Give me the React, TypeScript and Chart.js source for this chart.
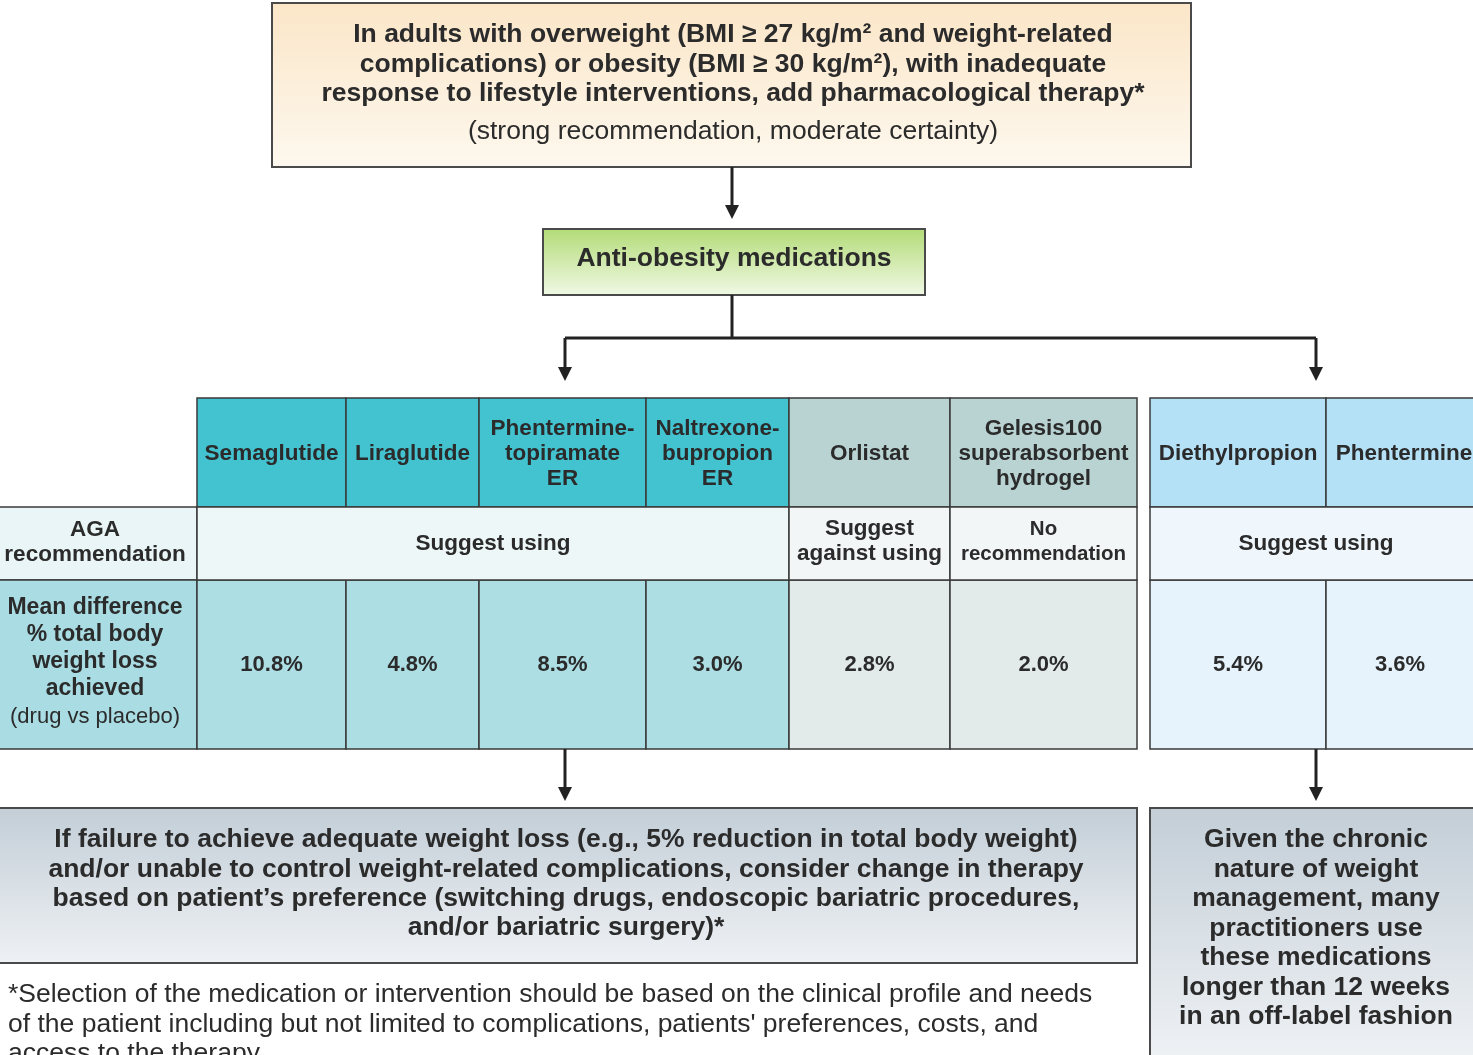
import React, { useEffect, useRef } from "react";
import { Chart, registerables } from "chart.js";

Chart.register(...registerables);

// ---------------- DATA ----------------
const drugNames = [
  "Semaglutide",
  "Liraglutide",
  "Phentermine-\ntopiramate\nER",
  "Naltrexone-\nbupropion\nER",
  "Orlistat",
  "Gelesis100\nsuperabsorbent\nhydrogel",
  "Diethylpropion",
  "Phentermine",
];
const weightLossPct = [10.8, 4.8, 8.5, 3.0, 2.8, 2.0, 5.4, 3.6];
const drugGroups = ["long", "long", "long", "long", "other", "other", "short", "short"];
const agaTexts = ["Suggest using", "Suggest\nagainst using", "No\nrecommendation", "Suggest using"];
const agaSpans = [
  [0, 3],
  [4, 4],
  [5, 5],
  [6, 7],
];
const rowLabels = ["AGA\nrecommendation", "Mean difference\n% total body\nweight loss\nachieved"];
const rowLabelNote = "(drug vs placebo)";
const topBoxLines = [
  "In adults with overweight (BMI ≥ 27 kg/m² and weight-related",
  "complications) or obesity (BMI ≥ 30 kg/m²), with inadequate",
  "response to lifestyle interventions, add pharmacological therapy*",
];
const topBoxNote = "(strong recommendation, moderate certainty)";
const middleBoxText = "Anti-obesity medications";
const failureLines = [
  "If failure to achieve adequate weight loss (e.g., 5% reduction in total body weight)",
  "and/or unable to control weight-related complications, consider change in therapy",
  "based on patient’s preference (switching drugs, endoscopic bariatric procedures,",
  "and/or bariatric surgery)*",
];
const chronicLines = [
  "Given the chronic",
  "nature of weight",
  "management, many",
  "practitioners use",
  "these medications",
  "longer than 12 weeks",
  "in an off-label fashion",
];
const footnoteLines = [
  "*Selection of the medication or intervention should be based on the clinical profile and needs",
  "of the patient including but not limited to complications, patients' preferences, costs, and",
  "access to the therapy.",
];

// ---------------- LAYOUT / STYLE ----------------
const W = 1473;
const H = 1055;
const colLeft = [197, 346, 479, 646, 789, 950, 1150, 1326];
const colRight = [346, 479, 646, 789, 950, 1137, 1326, 1482];
const labelCol = [0, 197];
const rowTop = [398, 507, 580];
const rowBottom = [507, 580, 749];

const groupStyle: Record<string, { head: string; aga: string; val: string }> = {
  long: { head: "#43c2d0", aga: "#edf7f8", val: "#acdee4" },
  other: { head: "#b9d3d3", aga: "#f3f6f6", val: "#e2eaea" },
  short: { head: "#b4e1f6", aga: "#eff7fc", val: "#e6f3fc" },
};
const labelStyle = { aga: "#e9f5f6", val: "#a9dce3" };
const TXT = "#2b2b2b";
const BORDER = "#3a3a3a";
const SANS = '"Liberation Sans", Arial, Helvetica, sans-serif';

const flowPlugin = {
  id: "flowchart",
  afterDraw(chart: any) {
    const { ctx } = chart;
    const sx = chart.scales.x;
    const sy = chart.scales.y;
    const X = (v: number) => sx.getPixelForValue(v);
    const Y = (v: number) => sy.getPixelForValue(v);

    const rect = (x0: number, y0: number, x1: number, y1: number, fill: any, stroke = BORDER, lw = 1.5) => {
      ctx.save();
      ctx.fillStyle = fill;
      ctx.fillRect(X(x0), Y(y0), X(x1) - X(x0), Y(y1) - Y(y0));
      ctx.strokeStyle = stroke;
      ctx.lineWidth = lw;
      ctx.strokeRect(X(x0), Y(y0), X(x1) - X(x0), Y(y1) - Y(y0));
      ctx.restore();
    };
    const grad = (y0: number, y1: number, c0: string, c1: string) => {
      const g = ctx.createLinearGradient(0, Y(y0), 0, Y(y1));
      g.addColorStop(0, c0);
      g.addColorStop(1, c1);
      return g;
    };
    const text = (s: string, cx: number, cy: number, font: string, align: CanvasTextAlign = "center") => {
      ctx.save();
      ctx.font = font;
      ctx.fillStyle = TXT;
      ctx.textAlign = align;
      ctx.textBaseline = "middle";
      ctx.fillText(s, X(cx), Y(cy));
      ctx.restore();
    };
    const lines = (arr: string[], cx: number, cy: number, lh: number, font: string) => {
      const start = cy - ((arr.length - 1) * lh) / 2;
      arr.forEach((s, i) => text(s, cx, start + i * lh, font));
    };
    const line = (x0: number, y0: number, x1: number, y1: number) => {
      ctx.save();
      ctx.strokeStyle = "#222";
      ctx.lineWidth = 3;
      ctx.beginPath();
      ctx.moveTo(X(x0), Y(y0));
      ctx.lineTo(X(x1), Y(y1));
      ctx.stroke();
      ctx.restore();
    };
    const arrow = (x0: number, y0: number, y1: number) => {
      line(x0, y0, x0, y1 - 10);
      ctx.save();
      ctx.fillStyle = "#222";
      ctx.beginPath();
      ctx.moveTo(X(x0 - 7), Y(y1 - 14));
      ctx.lineTo(X(x0 + 7), Y(y1 - 14));
      ctx.lineTo(X(x0), Y(y1));
      ctx.closePath();
      ctx.fill();
      ctx.restore();
    };

    // background
    ctx.save();
    ctx.fillStyle = "#ffffff";
    ctx.fillRect(X(0), Y(0), X(W) - X(0), Y(H) - Y(0));
    ctx.restore();

    // top box
    rect(272, 3, 1191, 167, grad(3, 167, "#fbe6c8", "#fdf8ee"), "#4a4a4a", 2);
    topBoxLines.forEach((s, i) => text(s, 733, 35 + i * 29.5, `bold 26.5px ${SANS}`));
    text(topBoxNote, 733, 132, `26.5px ${SANS}`);
    arrow(732, 167, 219);

    // green box
    rect(543, 229, 925, 295, grad(229, 295, "#b3dc78", "#f0f8e4"), "#4a4a4a", 2);
    text(middleBoxText, 734, 259, `bold 26.5px ${SANS}`);

    // connectors
    line(732, 295, 732, 338);
    line(565, 338, 1316, 338);
    arrow(565, 338, 381);
    arrow(1316, 338, 381);

    // row label column
    rect(labelCol[0] - 2, rowTop[1], labelCol[1], rowBottom[1], labelStyle.aga);
    rect(labelCol[0] - 2, rowTop[2], labelCol[1], rowBottom[2], labelStyle.val);
    lines(rowLabels[0].split("\n"), 95, 542, 25, `bold 22.5px ${SANS}`);
    lines(rowLabels[1].split("\n"), 95, 648, 26.8, `bold 23px ${SANS}`);
    text(rowLabelNote, 95, 717, `22px ${SANS}`);

    // drug columns: header and value cells
    drugNames.forEach((name, i) => {
      const st = groupStyle[drugGroups[i]];
      const l = colLeft[i];
      const r = colRight[i];
      const cx = i === 7 ? 1400 : (l + r) / 2;
      rect(l, rowTop[0], r, rowBottom[0], st.head);
      lines(name.split("\n"), i === 7 ? 1404 : cx, 454, 25, `bold 22.5px ${SANS}`);
      rect(l, rowTop[2], r, rowBottom[2], st.val);
      text(`${weightLossPct[i].toFixed(1)}%`, cx, 665, `bold 22px ${SANS}`);
    });

    // AGA recommendation cells
    agaSpans.forEach(([a, b], k) => {
      const st = groupStyle[drugGroups[a]];
      const l = colLeft[a];
      const r = Math.min(colRight[b], 1475);
      rect(l, rowTop[1], colRight[b], rowBottom[1], st.aga);
      const parts = agaTexts[k].split("\n");
      const small = parts.some((p) => p === "recommendation");
      const cx = k === 3 ? 1316 : (l + r) / 2;
      lines(parts, cx, parts.length > 1 ? 541.5 : 544, 25, `bold ${small ? 20.5 : 22.5}px ${SANS}`);
    });

    // arrows below the table
    arrow(565, 749, 801);
    arrow(1316, 749, 801);

    // bottom-left box
    rect(-2, 808, 1137, 963, grad(808, 963, "#c3ced7", "#eef1f4"), "#4a4a4a", 2);
    failureLines.forEach((s, i) => text(s, 566, 840 + i * 29.3, `bold 26.5px ${SANS}`));

    // bottom-right box
    rect(1150, 808, 1482, 1062, grad(808, 1055, "#c3ced7", "#eef1f4"), "#4a4a4a", 2);
    lines(chronicLines, 1316, 928.5, 29.5, `bold 26.5px ${SANS}`);

    // footnote
    footnoteLines.forEach((s, i) => text(s, 8, 995 + i * 29.2, `26.5px ${SANS}`, "left"));
  },
};

export default function App() {
  const ref = useRef<HTMLCanvasElement | null>(null);
  useEffect(() => {
    if (!ref.current) return;
    const chart = new Chart(ref.current, {
      type: "scatter",
      data: { datasets: [] },
      options: {
        animation: false,
        responsive: false,
        devicePixelRatio: 1,
        layout: { padding: 0 },
        plugins: { legend: { display: false }, tooltip: { enabled: false } },
        scales: {
          x: { type: "linear", min: 0, max: W, display: false },
          y: { type: "linear", min: 0, max: H, reverse: true, display: false },
        },
      },
      plugins: [flowPlugin],
    });
    return () => chart.destroy();
  }, []);
  return (
    <div style={{ position: "fixed", left: 0, top: 0, width: W, height: H, background: "#fff" }}>
      <canvas ref={ref} width={W} height={H} style={{ width: W, height: H, display: "block" }} />
    </div>
  );
}
